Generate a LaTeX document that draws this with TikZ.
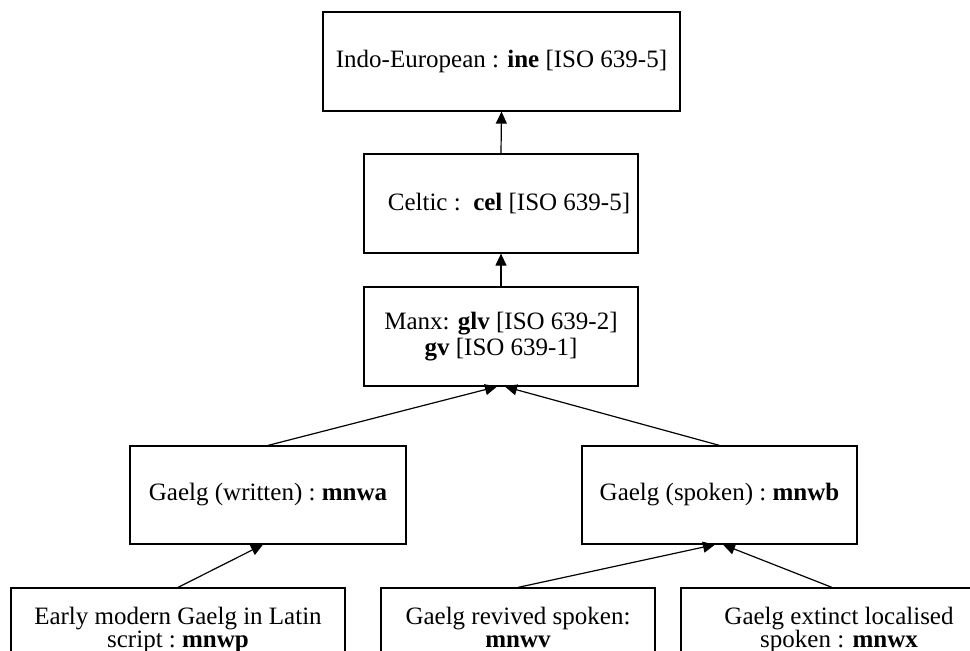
\documentclass[tikz,border=0pt]{standalone}
\usepackage{fontspec}
\setmainfont{Liberation Serif}
\usetikzlibrary{arrows.meta}
\newcommand{\twolines}[2]{\rule{0pt}{9pt}#1\\[1pt]#2\rule[-3pt]{0pt}{3pt}}
\newcommand{\tightlines}{\lineskiplimit=-20pt\relax}
\tikzset{
  langbox/.style={draw,line width=0.6pt,inner sep=0pt,align=center,
    font=\fontsize{12.5}{13}\selectfont},
  lowbox/.style={langbox,font=\fontsize{12.5}{10.5}\selectfont\tightlines},
  up/.style={-{Triangle[length=6pt,width=5.5pt]},line width=0.6pt}
}
\begin{document}
\begin{tikzpicture}[x=0.5pt,y=-0.5pt]
    \useasboundingbox (0,0) rectangle (970,650);
    \node[langbox,minimum width=178.5pt,minimum height=49.5pt] (ie) at (501.5,61.5) {Indo-European : \textbf{ine} [ISO 639-5]};
    \node[langbox,minimum width=137pt,minimum height=49.5pt] (cel) at (501,203.5) {\hspace*{8pt}Celtic :\ \ \textbf{cel} [ISO 639-5]};
    \node[langbox,minimum width=137pt,minimum height=49.5pt] (manx) at (501,336.5) {Manx: \textbf{glv} [ISO 639-2]\\\textbf{gv} [ISO 639-1]};
    \node[langbox,minimum width=138pt,minimum height=49pt] (written) at (268,495) {Gaelg (written) :\ \textbf{mnwa}};
    \node[langbox,minimum width=137.5pt,minimum height=49pt] (spoken) at (719.5,495) {Gaelg (spoken) :\ \textbf{mnwb}};
    \node[lowbox,minimum width=167pt,minimum height=41.5pt] (early) at (178,629.5) {\twolines{Early modern Gaelg in Latin}{script :\ \textbf{mnwp}}};
    \node[lowbox,minimum width=137pt,minimum height=41.5pt] (revived) at (518,629.5) {\twolines{Gaelg revived spoken:}{\textbf{mnwv}}};
    \node[lowbox,minimum width=158pt,minimum height=41.5pt] (extinct) at (839,629.5) {\twolines{Gaelg extinct localised}{spoken : \textbf{mnwx}}};
    \draw[up] (cel.north) -- (ie.south);
    \draw[up] (manx.north) -- (cel.south);
    \draw[up] (written.north) -- ([xshift=-2pt]manx.south);
    \draw[up] (spoken.north) -- ([xshift=2pt]manx.south);
    \draw[up] (early.north) -- ([xshift=-2.5pt]written.south);
    \draw[up] (revived.north) -- ([xshift=-2.25pt]spoken.south);
    \draw[up] ([xshift=-3.5pt]extinct.north) -- ([xshift=1.75pt]spoken.south);
\end{tikzpicture}
\end{document}
